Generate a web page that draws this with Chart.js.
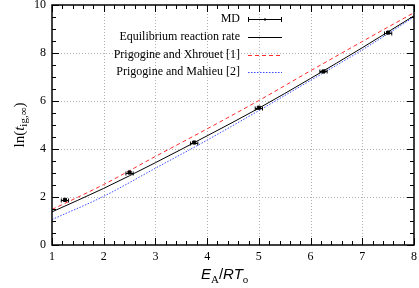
<!DOCTYPE html>
<html>
<head>
<meta charset="utf-8">
<script src="https://cdn.jsdelivr.net/npm/chart.js@4"></script>
<style>
  html, body { margin: 0; padding: 0; background: #fff; }
  #wrap { width: 419px; height: 288px; }
</style>
</head>
<body>
<div id="wrap"><canvas id="c" width="419" height="288"></canvas></div>
<script>
// MD data (with horizontal error)
var mdX = [1.25, 2.5, 3.75, 5.0, 6.25, 7.5];
var mdY = [1.88, 3.02, 4.27, 5.72, 7.23, 8.85];
var mdErr = [0.07, 0.07, 0.07, 0.07, 0.07, 0.07];

// model curves
var curveX = [1, 2, 3, 4, 5, 6, 7, 8];
var eqY = [1.38, 2.36, 3.43, 4.55, 5.70, 6.94, 8.22, 9.55];
var xhrY = [1.48, 2.52, 3.69, 4.84, 6.02, 7.26, 8.48, 9.68];
var mahY = [1.06, 2.03, 3.20, 4.37, 5.60, 6.86, 8.13, 9.50];

var xTicks = [1, 2, 3, 4, 5, 6, 7, 8];
var yTicks = [0, 2, 4, 6, 8, 10];

var legendLabels = ["MD", "Equilibrium reaction rate", "Prigogine and Xhrouet [1]", "Prigogine and Mahieu [2]"];

function pts(xs, ys) {
  var a = [];
  for (var i = 0; i < xs.length; i++) a.push({x: xs[i], y: ys[i]});
  return a;
}

var serif = "'Liberation Serif', 'DejaVu Serif', serif";

var decor = {
  id: 'decor',
  beforeDatasetsDraw: function(chart) {
    // dotted grid, drawn as 1px dots
    var ctx = chart.ctx, a = chart.chartArea;
    var xs = chart.scales.x, ys = chart.scales.y;
    ctx.save();
    ctx.fillStyle = '#b0b0b0';
    xTicks.slice(1, -1).forEach(function(v) {
      var px = Math.round(xs.getPixelForValue(v));
      for (var yy = Math.ceil(a.top); yy < a.bottom; yy += 3) ctx.fillRect(px, yy, 1, 1);
    });
    yTicks.slice(1, -1).forEach(function(v) {
      var py = Math.round(ys.getPixelForValue(v));
      for (var xx = Math.ceil(a.left); xx < a.right; xx += 3) ctx.fillRect(xx, py, 1, 1);
    });
    ctx.restore();
  },
  afterDraw: function(chart) {
    var ctx = chart.ctx, a = chart.chartArea;
    var xs = chart.scales.x, ys = chart.scales.y;
    ctx.save();
    ctx.setLineDash([]);
    // error bars
    ctx.strokeStyle = '#000';
    ctx.lineWidth = 1;
    for (var i = 0; i < mdX.length; i++) {
      var x0 = xs.getPixelForValue(mdX[i] - mdErr[i]);
      var x1 = xs.getPixelForValue(mdX[i] + mdErr[i]);
      var py = Math.round(ys.getPixelForValue(mdY[i])) + 0.5;
      ctx.beginPath();
      ctx.moveTo(x0, py); ctx.lineTo(x1, py);
      ctx.moveTo(x0, py - 2); ctx.lineTo(x0, py + 2);
      ctx.moveTo(x1, py - 2); ctx.lineTo(x1, py + 2);
      ctx.stroke();
    }
    // frame
    ctx.lineWidth = 1.5;
    ctx.strokeRect(a.left, a.top, a.right - a.left, a.bottom - a.top);
    // inward ticks, major and minor, on all four sides
    ctx.fillStyle = '#000';
    var yT = Math.round(a.top), yB = Math.round(a.bottom);
    var xL = Math.round(a.left), xR = Math.round(a.right);
    for (var n = 0; n <= 35; n++) {
      var tx0 = Math.round(xs.getPixelForValue(1 + n * 0.2));
      var len = (n % 5 === 0) ? 7 : 4;
      ctx.fillRect(tx0, yB - len, 1, len);
      ctx.fillRect(tx0, yT, 1, len);
    }
    for (var m = 0; m <= 20; m++) {
      var ty0 = Math.round(ys.getPixelForValue(m * 0.5));
      var l2 = (m % 4 === 0) ? 7 : 4;
      ctx.fillRect(xL, ty0, l2, 1);
      ctx.fillRect(xR - l2, ty0, l2, 1);
    }

    // legend
    ctx.font = '12px ' + serif;
    ctx.fillStyle = '#000';
    ctx.textAlign = 'right';
    ctx.textBaseline = 'middle';
    var ly = [19, 37, 55, 72];
    var tx = 240, s0 = 248, s1 = 282;
    for (var k = 0; k < legendLabels.length; k++) {
      ctx.fillText(legendLabels[k], tx, ly[k]);
    }
    // MD sample
    ctx.strokeStyle = '#000';
    ctx.lineWidth = 1;
    ctx.beginPath();
    ctx.moveTo(s0, ly[0] + 0.5); ctx.lineTo(s1, ly[0] + 0.5);
    ctx.moveTo(s0 + 0.5, ly[0] - 2); ctx.lineTo(s0 + 0.5, ly[0] + 3);
    ctx.moveTo(s1 - 0.5, ly[0] - 2); ctx.lineTo(s1 - 0.5, ly[0] + 3);
    ctx.stroke();
    ctx.fillRect((s0 + s1) / 2 - 1, ly[0] - 0.5, 2, 2);
    // line samples
    var sty = [['#000', []], ['#ff2a2a', [4, 3]], ['#3a4dff', [1.5, 1.5]]];
    for (var j = 0; j < 3; j++) {
      ctx.strokeStyle = sty[j][0];
      ctx.setLineDash(sty[j][1]);
      ctx.beginPath();
      ctx.moveTo(s0, ly[j + 1] + 0.5); ctx.lineTo(s1, ly[j + 1] + 0.5);
      ctx.stroke();
    }
    ctx.setLineDash([]);

    // x title: E_A / R T_o
    ctx.fillStyle = '#000';
    ctx.textAlign = 'left';
    ctx.textBaseline = 'alphabetic';
    var bx = 201, by = 279;
    var parts = [
      ['italic 15px Liberation Sans, Arial, sans-serif', 'E', 0],
      ['11px ' + serif, 'A', 4],
      ['15px Liberation Sans, Arial, sans-serif', '/', 0],
      ['italic 15px Liberation Sans, Arial, sans-serif', 'RT', 0],
      ['11px ' + serif, 'o', 4]
    ];
    for (var p = 0; p < parts.length; p++) {
      ctx.font = parts[p][0];
      ctx.fillText(parts[p][1], bx, by + parts[p][2]);
      bx += ctx.measureText(parts[p][1]).width;
    }

    // y title: ln(t_ig,inf)
    ctx.translate(20, 125);
    ctx.rotate(-Math.PI / 2);
    var yparts = [
      ['15px ' + serif, 'ln(', 0],
      ['italic 15px ' + serif, 't', 0],
      ['11px ' + serif, 'ig,\u221E', 4],
      ['15px ' + serif, ')', 0]
    ];
    var tw = 0;
    for (var q = 0; q < yparts.length; q++) { ctx.font = yparts[q][0]; tw += ctx.measureText(yparts[q][1]).width; }
    var cx = -tw / 2;
    ctx.textBaseline = 'middle';
    for (q = 0; q < yparts.length; q++) {
      ctx.font = yparts[q][0];
      ctx.fillText(yparts[q][1], cx, yparts[q][2]);
      cx += ctx.measureText(yparts[q][1]).width;
    }
    ctx.restore();
  }
};

var chart = new Chart(document.getElementById('c'), {
  type: 'scatter',
  data: {
    datasets: [
      { label: 'MD', data: pts(mdX, mdY), pointStyle: 'rect', pointRadius: 2.2,
        backgroundColor: '#000', borderColor: '#000', showLine: false, order: 0 },
      { label: 'Equilibrium reaction rate', data: pts(curveX, eqY), showLine: true,
        borderColor: '#000', borderWidth: 1, pointRadius: 0, cubicInterpolationMode: 'monotone' },
      { label: 'Prigogine and Xhrouet [1]', data: pts(curveX, xhrY), showLine: true,
        borderColor: '#ff2a2a', borderWidth: 1, borderDash: [4, 3], pointRadius: 0, cubicInterpolationMode: 'monotone' },
      { label: 'Prigogine and Mahieu [2]', data: pts(curveX, mahY), showLine: true,
        borderColor: '#3a4dff', borderWidth: 1, borderDash: [1.5, 1.5], pointRadius: 0, cubicInterpolationMode: 'monotone' }
    ]
  },
  options: {
    responsive: false,
    animation: false,
    layout: { padding: 0 },
    plugins: { legend: { display: false }, tooltip: { enabled: false } },
    scales: {
      x: {
        type: 'linear', min: 1, max: 8,
        afterBuildTicks: function(s) { s.ticks = xTicks.map(function(v){ return {value: v}; }); },
        afterFit: function(s) { s.height = 43; s.paddingRight = 5; },
        grid: { display: false, drawTicks: false },
        border: { display: false },
        ticks: { color: '#000', font: { family: serif, size: 12 }, padding: 5, maxRotation: 0 }
      },
      y: {
        type: 'linear', min: 0, max: 10,
        afterBuildTicks: function(s) { s.ticks = yTicks.map(function(v){ return {value: v}; }); },
        afterFit: function(s) { s.width = 52; s.paddingTop = 5; },
        grid: { display: false, drawTicks: false },
        border: { display: false },
        ticks: { color: '#000', font: { family: serif, size: 12 }, padding: 6 }
      }
    }
  },
  plugins: [decor]
});
</script>
</body>
</html>
